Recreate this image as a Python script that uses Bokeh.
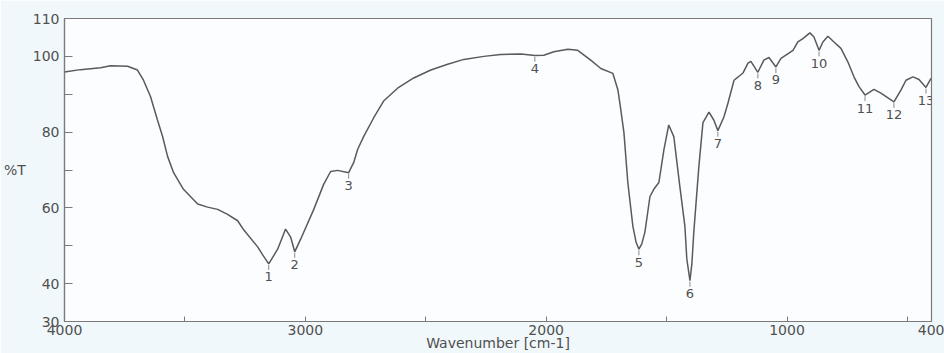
from bokeh.plotting import figure
from bokeh.models import Range1d, FixedTicker
from bokeh.core.properties import value
from bokeh.embed import file_html
from bokeh.resources import INLINE

# IR transmission spectrum: wavenumber (cm-1) vs %T
wavenumber = [4000, 3934, 3850, 3809, 3738, 3697, 3672, 3643, 3614, 3593,
              3572, 3547, 3506, 3447, 3406, 3364, 3323, 3281, 3256, 3198,
              3177, 3152, 3115, 3082, 3061, 3044, 3019, 2965, 2924, 2895,
              2866, 2820, 2799, 2783, 2758, 2716, 2675, 2617, 2550, 2479,
              2409, 2342, 2259, 2189, 2105, 2047, 2010, 1968, 1910, 1869,
              1815, 1773, 1723, 1702, 1690, 1677, 1661, 1640, 1627, 1615,
              1603, 1590, 1569, 1553, 1532, 1511, 1491, 1470, 1445, 1424,
              1416, 1403, 1395, 1387, 1366, 1349, 1324, 1304, 1287, 1262,
              1245, 1220, 1204, 1183, 1162, 1150, 1121, 1096, 1075, 1046,
              1025, 975, 955, 934, 905, 888, 867, 851, 830, 805,
              776, 747, 722, 701, 676, 639, 610, 556, 527, 506,
              477, 452, 423, 402]
transmittance = [95.9, 96.5, 97.0, 97.5, 97.4, 96.4, 93.7, 89.4, 83.2, 78.9,
                 73.6, 69.3, 64.9, 61.0, 60.2, 59.6, 58.3, 56.6, 54.2, 49.7,
                 47.6, 45.2, 49.1, 54.4, 52.3, 48.4, 51.8, 59.6, 66.2, 69.6,
                 69.9, 69.3, 72.0, 75.4, 78.8, 83.8, 88.2, 91.6, 94.3, 96.4,
                 97.9, 99.2, 100.0, 100.5, 100.6, 100.2, 100.3, 101.2, 101.9, 101.6,
                 99.0, 96.8, 95.5, 91.1, 85.9, 79.8, 66.7, 55.2, 51.0, 49.1,
                 50.5, 53.6, 63.0, 64.9, 66.7, 75.4, 81.9, 78.8, 65.7, 55.2,
                 46.5, 40.8, 45.2, 53.6, 70.9, 82.5, 85.3, 83.2, 80.4, 84.0,
                 87.7, 93.7, 94.5, 95.6, 98.2, 98.7, 95.8, 99.0, 99.7, 97.2,
                 99.5, 101.6, 103.8, 104.7, 106.2, 105.1, 101.6, 103.8, 105.3, 103.8,
                 102.1, 98.5, 94.6, 92.0, 89.8, 91.3, 90.3, 88.0, 91.1, 93.7,
                 94.6, 93.9, 91.8, 94.2]

# Numbered absorption bands
peak_ids = ["1", "2", "3", "4", "5", "6", "7", "8", "9", "10", "11", "12", "13"]
peak_wn = [3152, 3044, 2820, 2047, 1615, 1403, 1287, 1121, 1046, 867, 676, 556, 423]
peak_t = [45.2, 48.4, 69.3, 100.2, 49.1, 40.8, 80.4, 95.8, 97.2, 101.6, 89.8, 88.0, 91.8]

x_ticks = [4000, 3500, 3000, 2500, 2000, 1500, 1000, 500, 400]
x_tick_labels = {4000: "4000", 3500: "", 3000: "3000", 2500: "", 2000: "2000",
                 1500: "", 1000: "1000", 500: "", 400: "400"}
y_ticks = [30, 40, 50, 60, 70, 80, 90, 100, 110]
y_tick_labels = {30: "30", 40: "40", 50: "", 60: "60", 70: "", 80: "80",
                 90: "", 100: "100", 110: "110"}

FONT = "DejaVu Sans"
INK = "#505050"
AXIS = "#7a7a7a"

p = figure(width=944, height=353, output_backend="svg", toolbar_location=None,
           x_range=Range1d(4000, 400), y_range=Range1d(30, 110),
           min_border_left=64, min_border_right=13, min_border_top=18,
           min_border_bottom=30)
p.background_fill_color = "#fbfdfe"
p.border_fill_color = "#f1f8fb"
p.outline_line_color = AXIS
p.outline_line_width = 1.2
p.grid.visible = False

for ax in (p.xaxis[0], p.yaxis[0]):
    ax.axis_line_color = AXIS
    ax.axis_line_width = 1.2
    ax.major_tick_line_color = AXIS
    ax.major_tick_out = 0
    ax.minor_tick_line_color = None
    ax.major_label_text_font = FONT
    ax.major_label_text_font_size = "14px"
    ax.major_label_text_color = INK
    ax.axis_label_text_font = FONT
    ax.axis_label_text_font_size = "14px"
    ax.axis_label_text_font_style = "normal"
    ax.axis_label_text_color = INK

p.xaxis.ticker = FixedTicker(ticks=x_ticks)
p.xaxis.major_label_overrides = x_tick_labels
p.xaxis.major_tick_in = 5
p.xaxis.major_label_standoff = 3
p.xaxis.axis_label = "Wavenumber [cm-1]"
p.xaxis.axis_label_standoff = -3

p.yaxis.ticker = FixedTicker(ticks=y_ticks)
p.yaxis.major_label_overrides = y_tick_labels
p.yaxis.major_tick_in = 8
p.yaxis.major_label_standoff = 5
p.yaxis.axis_label = "%T"
p.yaxis.axis_label_standoff = 4
if "axis_label_orientation" in p.yaxis[0].properties():
    p.yaxis.axis_label_orientation = "horizontal"

# spectrum trace
p.line(wavenumber, transmittance, line_color="#5a5a5a", line_width=1.5)

# band markers: short tick under each minimum plus its number
p.segment(x0=peak_wn, y0=[t - 0.3 for t in peak_t], x1=peak_wn,
          y1=[t - 1.6 for t in peak_t], line_color="#8a8a8a", line_width=1)
p.text(x=peak_wn, y=peak_t, text=peak_ids, y_offset=13,
       text_align="center", text_baseline="middle",
       text_font=value(FONT), text_font_size="13px", text_color=INK)

open("out.html", "w").write(file_html(p, INLINE))
